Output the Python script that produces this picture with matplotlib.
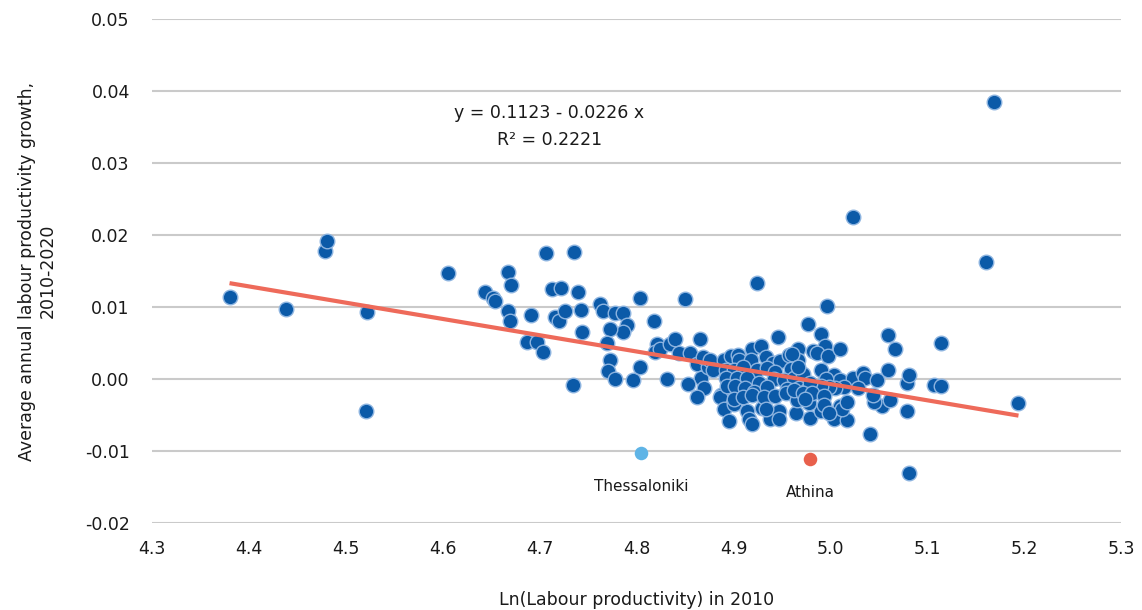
import numpy as np
import matplotlib.pyplot as plt
from matplotlib.ticker import MultipleLocator, FuncFormatter

plt.rcParams['font.family'] = ['DejaVu Sans']
plt.rcParams['axes.unicode_minus'] = False

# Ln(labour productivity) in 2010 and average annual growth 2010-2020, per region
ln_prod_2010 = [
    4.380, 4.438, 4.478, 4.481, 4.522, 4.521, 4.605, 4.667, 4.670, 4.644,
    4.652, 4.654, 4.707, 4.735, 4.713, 4.722, 4.740, 4.667, 4.669, 4.691,
    4.716, 4.720, 4.726, 4.743, 4.744, 4.687, 4.697, 4.703, 4.734,
    4.804, 4.850, 4.762, 4.765, 4.778, 4.786, 4.790, 4.786, 4.773, 4.818,
    4.769, 4.773, 4.770, 4.778, 4.796, 4.803, 4.821, 4.819, 4.824, 4.834,
    4.840, 4.844, 4.855, 4.865, 4.862, 4.866, 4.853, 4.831, 4.874,
    4.870, 4.862, 4.887, 4.886, 4.890, 4.900, 4.895, 4.914, 4.916, 4.919,
    4.929, 4.938, 4.947, 4.947, 4.964, 4.979, 4.990, 5.004, 5.017, 5.010,
    5.012, 5.017, 5.041, 5.053, 5.061, 5.045, 5.079, 5.081, 5.079, 5.107,
    5.114,
    4.946, 4.977, 4.868, 4.876, 4.879, 4.890, 4.897, 4.905, 4.906, 4.919,
    4.928, 4.918, 4.934, 4.941, 4.948, 4.957, 4.967, 4.967, 4.959, 4.892,
    4.900, 4.910, 4.924, 4.935, 4.943, 4.892, 4.904, 4.914, 4.926, 4.942,
    4.952, 4.962, 4.972, 4.893, 4.902, 4.912, 4.921, 4.935, 4.955, 4.968,
    4.976, 4.900, 4.910, 4.919, 4.931, 4.943, 4.954, 4.965, 4.978, 4.934,
    4.996, 4.990, 4.994, 4.982, 4.986, 4.997, 5.010, 4.960, 4.967, 4.990,
    5.004, 5.010, 4.995, 5.023, 5.034, 5.036, 5.048, 5.059, 5.067, 5.059,
    5.081, 5.114, 5.028, 5.044, 5.014, 5.005, 4.998, 4.990, 4.979, 4.962,
    4.972, 4.981, 4.993, 4.974, 4.993, 4.998,
    5.169, 5.023, 5.161, 5.194, 4.924,
]
growth_2010_2020 = [
    0.0114, 0.0097, 0.0178, 0.0192, 0.0093, -0.0044, 0.0147, 0.0148, 0.0131, 0.0121,
    0.0112, 0.0109, 0.0175, 0.0176, 0.0125, 0.0127, 0.0121, 0.0094, 0.0081, 0.0089,
    0.0086, 0.0080, 0.0094, 0.0096, 0.0065, 0.0052, 0.0051, 0.0037, -0.0009,
    0.0112, 0.0111, 0.0104, 0.0095, 0.0092, 0.0091, 0.0075, 0.0065, 0.0069, 0.0081,
    0.0050, 0.0027, 0.0011, 0.0000, -0.0002, 0.0016, 0.0049, 0.0038, 0.0041, 0.0049,
    0.0055, 0.0036, 0.0036, 0.0055, 0.0021, 0.0002, -0.0007, 0.0000, 0.0017,
    -0.0012, -0.0025, -0.0022, -0.0025, -0.0042, -0.0035, -0.0059, -0.0045, -0.0055, -0.0062,
    -0.0040, -0.0056, -0.0045, -0.0055, -0.0047, -0.0054, -0.0045, -0.0056, -0.0057, -0.0038,
    -0.0042, -0.0032, -0.0076, -0.0037, -0.0029, -0.0032, -0.0044, -0.0131, -0.0006, -0.0009,
    -0.0010,
    0.0059, 0.0077, 0.0031, 0.0026, 0.0013, 0.0026, 0.0032, 0.0033, 0.0026, 0.0041,
    0.0046, 0.0026, 0.0031, 0.0022, 0.0025, 0.0033, 0.0042, 0.0026, 0.0014, 0.0013,
    0.0013, 0.0017, 0.0013, 0.0015, 0.0010, 0.0001, 0.0002, 0.0001, -0.0006, 0.0000,
    -0.0001, 0.0002, 0.0007, -0.0010, -0.0010, -0.0012, -0.0018, -0.0011, -0.0014, -0.0012,
    -0.0015, -0.0028, -0.0025, -0.0022, -0.0025, -0.0024, -0.0020, -0.0029, -0.0034, -0.0041,
    0.0101, 0.0062, 0.0046, 0.0039, 0.0036, 0.0032, 0.0042, 0.0035, 0.0016, 0.0013,
    0.0005, -0.0001, 0.0000, 0.0002, 0.0009, 0.0001, -0.0001, 0.0061, 0.0041, 0.0012,
    0.0006, 0.0050, -0.0012, -0.0022, -0.0011, -0.0013, -0.0011, -0.0010, -0.0006, -0.0015,
    -0.0020, -0.0020, -0.0024, -0.0028, -0.0036, -0.0047,
    0.0384, 0.0225, 0.0163, -0.0033, 0.0133,
]

# highlighted capital regions
city_names = ['Thessaloniki', 'Athina']
city_x = [4.805, 4.979]
city_y = [-0.0103, -0.0111]
city_colors = ['#5fb4e6', '#e8604c']

# fitted line y = a + b x
intercept = 0.1123
slope = -0.0226
r_squared = 0.2221

fig = plt.figure(figsize=(11.42, 6.10), dpi=100)
ax = fig.add_axes([0.1331, 0.1426, 0.8487, 0.8263])

ax.scatter(ln_prod_2010, growth_2010_2020, s=110, color='#0b5aa8',
           edgecolors='#8db4e0', linewidths=1.0, zorder=3)

fit_x = np.array([min(ln_prod_2010), max(ln_prod_2010)])
ax.plot(fit_x, intercept + slope * fit_x, color='#ee6a5a', lw=3.0,
        solid_capstyle='butt', zorder=4)

for name, x, y, c in zip(city_names, city_x, city_y, city_colors):
    ax.scatter([x], [y], s=95, color=c, linewidths=0, zorder=5)
    ax.annotate(name, (x, y), xytext=(0, -24), textcoords='offset points',
                ha='center', va='center', fontsize=11, color='#1a1a1a')

# equation box text, placed over the left half of the plot
ax.text(4.71, 0.0370, f'y = {intercept:.4f} - {abs(slope):.4f} x',
        ha='center', va='center', fontsize=12.5, color='#1a1a1a')
ax.text(4.71, 0.0332, f'R\u00b2 = {r_squared:.4f}',
        ha='center', va='center', fontsize=12.5, color='#1a1a1a')

ax.set_xlim(4.3, 5.3)
ax.set_ylim(-0.02, 0.05)
ax.xaxis.set_major_locator(MultipleLocator(0.1))
ax.yaxis.set_major_locator(MultipleLocator(0.01))
ax.xaxis.set_major_formatter(FuncFormatter(lambda v, p: f'{v:.1f}'))
ax.yaxis.set_major_formatter(FuncFormatter(lambda v, p: f'{v:.2f}'))

ax.grid(axis='y', color='#cacaca', lw=1.5)
ax.set_axisbelow(True)
for s in ax.spines.values():
    s.set_visible(False)
ax.tick_params(length=0, labelsize=12.5, colors='#1a1a1a')
ax.tick_params(axis='x', pad=12)
ax.tick_params(axis='y', pad=16)

ax.set_xlabel('Ln(Labour productivity) in 2010', fontsize=12.5,
              color='#1a1a1a', labelpad=24)
ax.set_ylabel('Average annual labour productivity growth,\n2010-2020',
              fontsize=12.5, color='#1a1a1a', labelpad=20)

fig.savefig('out.png', dpi=100)
